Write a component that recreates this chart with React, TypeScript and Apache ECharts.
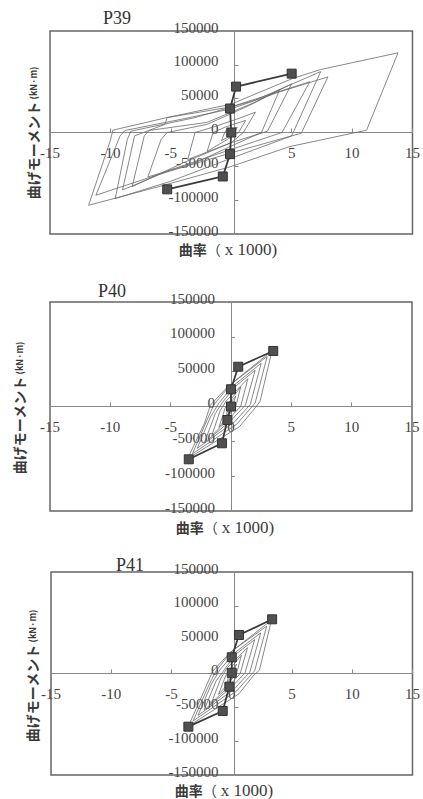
import React, { useEffect, useRef } from "react";
import * as echarts from "echarts";

// x: curvature (x 1000), y: bending moment (kN·m)
const X_MIN = -15;
const X_MAX = 15;
const X_STEP = 5;
const Y_MIN = -150000;
const Y_MAX = 150000;
const Y_STEP = 50000;

const PANEL_TITLES = ["P39", "P40", "P41"];

// ---- P39 ----
const P39_SKELETON = [
  [-5.3, -84000], [-0.7, -65000], [-0.1, -32000], [0, 0], [-0.1, 35400], [0.4, 67800], [5.0, 87000],
];
const P39_LOOPS = [
  [[13.8, 117700], [11.2, 3400], [4.8, -21000], [-0.1, -50800], [-6, -80000], [-11.8, -107500], [-10.0, -11400], [-9.8, 3400], [-5.3, 22200], [0, 42000], [5.1, 80000], [7.4, 93100], [13.8, 117700]],
  [[8.0, 82200], [5.8, -1000], [0, -30000], [-6, -62000], [-11.2, -92700], [-9.2, -5000], [-8.8, 3000], [-4, 20000], [0, 35000], [4, 60000], [8.0, 82200]],
  [[7.4, 90000], [5.0, -5000], [0, -38000], [-5, -72000], [-9.6, -97600], [-8.6, -10000], [-8.3, 2000], [-3, 22000], [2, 48000], [7.4, 90000]],
  [[6.5, 75000], [4.2, 0], [0, -25000], [-5, -55000], [-9.0, -85000], [-8.0, -5000], [-5.5, 12000], [-5.3, 22000], [0, 38000], [6.5, 75000]],
  [[5.0, 72000], [3.0, 2000], [0, -15000], [-4, -45000], [-8.2, -80000], [-7.2, -5000], [-6.8, 3000], [-2, 15000], [2, 45000], [5.0, 72000]],
  [[4.0, 63000], [2.5, 0], [0, -20000], [-3, -45000], [-6.9, -65600], [-5.8, -10000], [-5.3, 0], [-2, 12000], [1.5, 40000], [4.0, 63000]],
  [[2.0, 30000], [1.0, 0], [0, -15000], [-3.6, -40000], [-3.0, 0], [-1.5, 8000], [0.5, 20000], [2.0, 30000]],
  [[1.2, 18000], [0.6, 0], [-0.3, -10000], [-2.0, -28000], [-1.5, 0], [-0.5, 8000], [1.2, 18000]],
  [[0.5, 8000], [0.2, -2000], [-0.8, -12000], [-0.5, 2000], [0.5, 8000]],
];

// ---- P40 ----
const P40_SKELETON = [
  [-3.5, -75800], [-0.75, -52800], [-0.3, -19400], [0, 0], [0, 24700], [0.6, 57100], [3.5, 79700],
];
const P40_LOOPS = [
  [[3.4, 80000], [2.4, 7000], [2.0, -2000], [0.7, -29000], [-3.6, -75000], [-2.2, -24000], [-1.7, 2000], [-0.3, 28000], [3.4, 80000]],
  [[3.0, 72000], [2.0, 5000], [0.5, -25000], [-3.2, -68000], [-2.0, -20000], [-1.4, 3000], [0, 32000], [3.0, 72000]],
  [[2.5, 62000], [1.6, 3000], [0.3, -22000], [-2.8, -60000], [-1.7, -15000], [-1.0, 5000], [0.2, 30000], [2.5, 62000]],
  [[2.0, 52000], [1.2, 2000], [0, -20000], [-2.2, -52000], [-1.3, -10000], [-0.7, 6000], [0.3, 28000], [2.0, 52000]],
  [[1.4, 40000], [0.8, 0], [-0.2, -18000], [-1.6, -42000], [-0.9, -6000], [-0.4, 8000], [1.4, 40000]],
  [[0.8, 28000], [0.4, 0], [-0.3, -15000], [-1.0, -30000], [-0.5, -3000], [0, 10000], [0.8, 28000]],
  [[0.4, 15000], [0.1, 0], [-0.4, -15000], [-0.2, 2000], [0.4, 15000]],
];

// ---- P41 ----
const P41_SKELETON = [
  [-3.6, -78600], [-0.75, -55400], [-0.2, -19500], [0, 1000], [0, 24000], [0.6, 56900], [3.35, 80100],
];
const P41_LOOPS = [
  [[3.3, 79000], [2.3, 5000], [1.8, -3000], [0.6, -30000], [-3.6, -78000], [-2.3, -26000], [-1.6, 3000], [-0.2, 30000], [3.3, 79000]],
  [[2.9, 70000], [1.9, 4000], [0.4, -26000], [-3.2, -70000], [-2.0, -21000], [-1.3, 4000], [0, 33000], [2.9, 70000]],
  [[2.4, 60000], [1.5, 2000], [0.2, -23000], [-2.8, -62000], [-1.7, -16000], [-1.0, 5000], [0.2, 30000], [2.4, 60000]],
  [[1.9, 50000], [1.1, 1000], [0, -20000], [-2.3, -54000], [-1.3, -11000], [-0.6, 6000], [0.3, 28000], [1.9, 50000]],
  [[1.3, 38000], [0.7, 0], [-0.2, -18000], [-1.7, -44000], [-0.9, -7000], [-0.4, 8000], [1.3, 38000]],
  [[0.8, 27000], [0.4, 0], [-0.3, -15000], [-1.1, -31000], [-0.5, -3000], [0, 10000], [0.8, 27000]],
  [[0.4, 14000], [0.1, 0], [-0.4, -15000], [-0.2, 2000], [0.4, 14000]],
];

const SKELETONS = [P39_SKELETON, P40_SKELETON, P41_SKELETON];
const LOOPS = [P39_LOOPS, P40_LOOPS, P41_LOOPS];

const GRIDS = [
  { left: 50, top: 31, width: 369, height: 203 },
  { left: 50, top: 302, width: 362, height: 209 },
  { left: 51, top: 572, width: 367, height: 203 },
];
const TITLE_POS = [
  [117, 18],
  [112, 291],
  [130, 565],
];
const XNAME_POS = [
  [228, 249],
  [225, 527],
  [224, 790],
];
const YNAME_POS = [
  [33, 133],
  [19, 408],
  [32, 676],
];

const SERIF = "'Liberation Serif', 'Times New Roman', serif";
const CJK = "'Noto Sans CJK JP', 'Noto Sans', sans-serif";

export default function App() {
  const ref = useRef<HTMLDivElement>(null);

  useEffect(() => {
    if (!ref.current) return;
    const chart = echarts.init(ref.current, undefined, { renderer: "svg" });

    const grid = GRIDS.map((g) => ({
      ...g,
      show: true,
      borderColor: "#666",
      borderWidth: 1.5,
      backgroundColor: "transparent",
      containLabel: false,
    }));

    const fmt = (v: number) => String(v);
    // labels sit a little above their ticks
    const yFmt = (v: number) => (v === Y_MIN ? `{m|${v}}` : `{n|${v}}`);

    // axes placed through the origin (the centre of each plot box)
    const xAxis = GRIDS.map((g, i) => ({
      type: "value",
      gridIndex: i,
      position: "bottom",
      offset: -g.height / 2,
      min: X_MIN,
      max: X_MAX,
      interval: X_STEP,
      splitLine: { show: false },
      axisLine: { onZero: false, lineStyle: { color: "#888", width: 1 } },
      axisTick: { show: true, inside: true, length: 4, lineStyle: { color: "#888" } },
      axisLabel: {
        fontFamily: SERIF,
        fontSize: 15,
        color: "#444",
        margin: 13,
        formatter: fmt,
        showMinLabel: true,
        showMaxLabel: true,
      },
    }));

    const yAxis = GRIDS.map((g, i) => ({
      type: "value",
      gridIndex: i,
      position: "left",
      offset: -g.width / 2,
      min: Y_MIN,
      max: Y_MAX,
      interval: Y_STEP,
      splitLine: { show: false },
      axisLine: { onZero: false, lineStyle: { color: "#888", width: 1 } },
      axisTick: { show: true, inside: true, length: 4, lineStyle: { color: "#888" } },
      axisLabel: {
        fontFamily: SERIF,
        fontSize: 15,
        color: "#444",
        margin: 16,
        formatter: yFmt,
        rich: {
          n: { fontFamily: SERIF, fontSize: 15, lineHeight: 15, color: "#444", padding: [0, 0, 7, 0] },
          m: { fontFamily: SERIF, fontSize: 15, lineHeight: 15, color: "#444", padding: [0, 0, 6, 0] },
        },
        showMinLabel: true,
        showMaxLabel: true,
      },
    }));

    const series: any[] = [];
    LOOPS.forEach((loops, i) => {
      loops.forEach((loop, j) => {
        series.push({
          type: "line",
          name: `${PANEL_TITLES[i]}-loop-${j}`,
          xAxisIndex: i,
          yAxisIndex: i,
          data: loop,
          showSymbol: false,
          symbol: "none",
          silent: true,
          z: 2,
          lineStyle: { color: "#6a6a6a", width: 0.8 },
        });
      });
    });
    SKELETONS.forEach((sk, i) => {
      series.push({
        type: "line",
        name: `${PANEL_TITLES[i]}-skeleton`,
        xAxisIndex: i,
        yAxisIndex: i,
        data: sk,
        symbol: "rect",
        symbolSize: 9,
        showSymbol: true,
        z: 4,
        itemStyle: { color: "#505050", borderColor: "#333", borderWidth: 1 },
        lineStyle: { color: "#3a3a3a", width: 1.8 },
      });
    });

    const graphic: any[] = [];
    PANEL_TITLES.forEach((t, i) => {
      graphic.push({
        type: "text",
        x: TITLE_POS[i][0],
        y: TITLE_POS[i][1],
        style: {
          text: t,
          fontFamily: SERIF,
          fontSize: 18,
          fill: "#333",
          align: "center",
          verticalAlign: "middle",
        },
      });
      graphic.push({
        type: "text",
        x: XNAME_POS[i][0],
        y: XNAME_POS[i][1],
        style: {
          text: "{a|曲率}{b|（}{c|x 1000)}",
          align: "center",
          verticalAlign: "middle",
          rich: {
            a: { fontFamily: CJK, fontSize: 14, lineHeight: 14, fontWeight: "bold", fill: "#3a3a3a" },
            b: { fontFamily: CJK, fontSize: 14, lineHeight: 14, fill: "#3a3a3a" },
            c: { fontFamily: SERIF, fontSize: 17, lineHeight: 14, fill: "#3a3a3a", padding: [0, 0, 0, 4] },
          },
        },
      });
      graphic.push({
        type: "text",
        x: YNAME_POS[i][0],
        y: YNAME_POS[i][1],
        rotation: Math.PI / 2,
        style: {
          text: "{a|曲げモーメント}{b| (kN·m)}",
          align: "center",
          verticalAlign: "middle",
          rich: {
            a: { fontFamily: CJK, fontSize: 14, lineHeight: 16, fontWeight: "bold", fill: "#3a3a3a" },
            b: { fontFamily: CJK, fontSize: 9, lineHeight: 16, fontWeight: "bold", fill: "#3a3a3a" },
          },
        },
      });
    });

    chart.setOption({
      animation: false,
      backgroundColor: "#ffffff",
      grid,
      xAxis,
      yAxis,
      series,
      graphic,
    });

    return () => chart.dispose();
  }, []);

  return (
    <div
      ref={ref}
      style={{ position: "absolute", left: 0, top: 0, width: 423, height: 799 }}
    />
  );
}
